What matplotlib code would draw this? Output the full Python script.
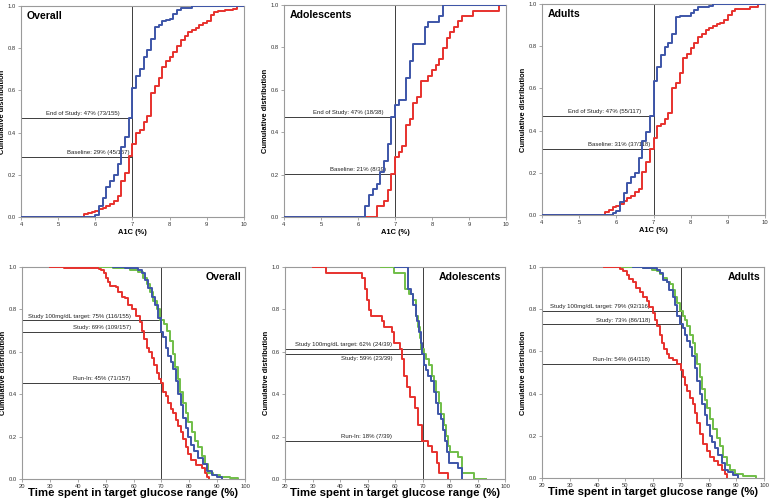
import matplotlib.pyplot as plt

plt.rcParams['font.family'] = ['Liberation Sans', 'DejaVu Sans']

RED = '#e7312d'
BLUE = '#3d55a8'
GREEN = '#70be47'
REF = '#3c3c3c'
FRAME = '#9a9a9a'

# ---- A1C (%): step positions and cumulative fraction reached there ----
a1c_overall_base_x = [5.7, 5.8, 5.9, 6.0, 6.1, 6.2, 6.3, 6.4, 6.5, 6.6, 6.7, 6.8, 6.9,
                      7.0, 7.1, 7.2, 7.3, 7.4, 7.5, 7.6, 7.7, 7.8, 7.9,
                      8.0, 8.1, 8.2, 8.3, 8.4, 8.5, 8.6, 8.7, 8.8, 8.9,
                      9.0, 9.1, 9.2, 9.3, 9.5, 9.7, 9.8]
a1c_overall_base_y = [0.013, 0.02, 0.025, 0.03, 0.04, 0.045, 0.05, 0.06, 0.075, 0.10, 0.17, 0.21, 0.287,
                      0.345, 0.40, 0.41, 0.45, 0.48, 0.59, 0.62, 0.66, 0.71, 0.74,
                      0.76, 0.78, 0.81, 0.84, 0.86, 0.875, 0.885, 0.895, 0.91, 0.92,
                      0.93, 0.955, 0.97, 0.975, 0.98, 0.985, 1.0]
a1c_overall_end_x = [6.0, 6.1, 6.2, 6.3, 6.4, 6.5, 6.6, 6.7, 6.8, 6.9,
                     7.0, 7.1, 7.2, 7.3, 7.4, 7.5, 7.6, 7.7, 7.8, 7.9,
                     8.0, 8.1, 8.2, 8.3, 8.6]
a1c_overall_end_y = [0.01, 0.05, 0.09, 0.14, 0.17, 0.20, 0.25, 0.33, 0.38, 0.471,
                     0.61, 0.67, 0.70, 0.76, 0.79, 0.845, 0.90, 0.91, 0.93, 0.935,
                     0.94, 0.96, 0.98, 0.99, 1.0]

a1c_adol_base_x = [6.5, 6.7, 6.8, 6.9, 7.0, 7.1, 7.2, 7.3, 7.4, 7.5, 7.6, 7.7,
                   7.9, 8.0, 8.1, 8.2, 8.3, 8.4, 8.5, 8.6, 8.7, 8.8, 9.1, 9.8]
a1c_adol_base_y = [0.051, 0.077, 0.128, 0.205, 0.282, 0.308, 0.333, 0.436, 0.462, 0.538, 0.564, 0.641,
                   0.667, 0.692, 0.718, 0.744, 0.795, 0.846, 0.872, 0.897, 0.923, 0.949, 0.974, 1.0]
a1c_adol_end_x = [6.2, 6.3, 6.4, 6.5, 6.6, 6.7, 6.8, 6.9, 7.0, 7.1, 7.3, 7.4, 7.5, 7.8, 7.9, 8.2, 8.3]
a1c_adol_end_y = [0.053, 0.105, 0.132, 0.158, 0.211, 0.263, 0.342, 0.474, 0.526, 0.553,
                  0.658, 0.737, 0.816, 0.895, 0.921, 0.947, 1.0]

a1c_adult_base_x = [5.7, 5.8, 5.9, 6.0, 6.1, 6.2, 6.3, 6.4, 6.5, 6.6, 6.7, 6.8, 6.9,
                    7.0, 7.1, 7.2, 7.3, 7.4, 7.5, 7.6, 7.7, 7.8, 7.9,
                    8.0, 8.1, 8.2, 8.3, 8.4, 8.5, 8.6, 8.7, 8.8, 8.9,
                    9.0, 9.1, 9.2, 9.6, 9.8]
a1c_adult_base_y = [0.013, 0.025, 0.036, 0.044, 0.054, 0.065, 0.08, 0.09, 0.107, 0.125, 0.206, 0.25, 0.314,
                    0.367, 0.42, 0.43, 0.454, 0.485, 0.603, 0.624, 0.674, 0.742, 0.765,
                    0.79, 0.813, 0.844, 0.86, 0.876, 0.887, 0.895, 0.904, 0.912, 0.923,
                    0.95, 0.967, 0.978, 0.986, 1.0]
a1c_adult_end_x = [5.9, 6.0, 6.1, 6.2, 6.3, 6.4, 6.5, 6.6, 6.7, 6.8, 6.9,
                   7.0, 7.1, 7.2, 7.3, 7.4, 7.5, 7.6, 7.7, 8.0, 8.1, 8.2, 8.5, 8.6]
a1c_adult_end_y = [0.009, 0.02, 0.063, 0.106, 0.153, 0.18, 0.2, 0.27, 0.352, 0.395, 0.47,
                   0.636, 0.703, 0.758, 0.798, 0.817, 0.86, 0.937, 0.944, 0.955, 0.97, 0.988, 0.99, 1.0]

# ---- time in range (%): step positions and fraction still at or above ----
tir_overall_run_x = [30, 35, 47.7, 48.5, 49.3, 50, 51, 51.7, 53.7, 54.5,
                     55.7, 56.9, 58, 59.3, 61, 62.3, 63, 63.8, 64.7, 65.5,
                     66.5, 67.3, 68.3, 69.1, 69.8, 70.7, 71.5, 72.5, 73.3, 74.2,
                     75.1, 76, 76.9, 77.8, 78.7, 79.6, 80.8, 82.6, 84.4, 85.6, 86.5, 87.2]
tir_overall_run_y = [1.0, 0.994, 0.99, 0.985, 0.97, 0.95, 0.93, 0.91, 0.905, 0.88,
                     0.86, 0.855, 0.82, 0.80, 0.77, 0.74, 0.70, 0.66, 0.62, 0.60,
                     0.57, 0.54, 0.50, 0.47, 0.452, 0.41, 0.39, 0.36, 0.33, 0.31,
                     0.28, 0.25, 0.22, 0.19, 0.15, 0.12, 0.09, 0.065, 0.05, 0.03, 0.01, 0.0]
tir_overall_study_x = [52.8, 57, 61.7, 62.9, 64.1, 65.3, 66.5, 67.7, 68.9, 69.7,
                       70.7, 71.6, 72.5, 73.3, 74.3, 75.2, 76.1, 76.9, 77.9, 78.8,
                       79.7, 80.5, 81.7, 83.3, 85, 86.2, 88, 89.8, 91.6]
tir_overall_study_y = [1.0, 0.994, 0.985, 0.97, 0.94, 0.90, 0.86, 0.82, 0.76, 0.694,
                       0.67, 0.62, 0.58, 0.55, 0.52, 0.46, 0.40, 0.35, 0.29, 0.24,
                       0.20, 0.16, 0.13, 0.10, 0.07, 0.04, 0.02, 0.01, 0.0]
tir_overall_target_x = [48, 52.8, 58.7, 61.7, 63.5, 64.7, 65.9, 67.1, 68.3, 69.5,
                        70.8, 72.1, 73.1, 74, 74.9, 75.8, 76.7, 77.9, 78.8, 79.7,
                        80.9, 82.1, 83.3, 84.5, 85.6, 86.8, 88.6, 91, 94.6, 97.6]
tir_overall_target_y = [1.0, 0.994, 0.985, 0.975, 0.95, 0.92, 0.88, 0.84, 0.80, 0.748,
                        0.73, 0.70, 0.65, 0.59, 0.53, 0.47, 0.41, 0.36, 0.31, 0.27,
                        0.22, 0.18, 0.15, 0.11, 0.07, 0.03, 0.02, 0.01, 0.005, 0.0]

tir_adol_run_x = [30, 34.9, 47.9, 49.1, 49.7, 50.7, 51.3, 55.1, 56, 58.8,
                  59.6, 61.8, 62.4, 63.4, 64.2, 65.5, 67.3, 68.5, 69.7, 72.1,
                  73.3, 75.1, 76.1, 79.4]
tir_adol_run_y = [1.0, 0.974, 0.949, 0.897, 0.846, 0.795, 0.769, 0.744, 0.718, 0.692,
                  0.641, 0.615, 0.564, 0.487, 0.436, 0.385, 0.333, 0.256, 0.179, 0.154,
                  0.128, 0.077, 0.026, 0.0]
tir_adol_study_x = [60, 64.8, 65.8, 66.7, 67.6, 68.1, 68.8, 69.4, 69.9, 70.7,
                    71.3, 72.1, 73, 74, 74.9, 75.8, 76.6, 77.3, 78.2, 78.8,
                    79.8, 83, 84.4]
tir_adol_study_y = [1.0, 0.897, 0.872, 0.821, 0.769, 0.744, 0.692, 0.641, 0.590, 0.538,
                    0.513, 0.487, 0.462, 0.410, 0.359, 0.308, 0.282, 0.231, 0.179, 0.128,
                    0.077, 0.051, 0.0]
tir_adol_target_x = [55, 59.5, 63.6, 65.2, 66.5, 67.5, 68.3, 69, 69.6, 70.5,
                     71.2, 72.3, 73.3, 74.2, 75, 76, 76.8, 77.8, 78.6, 79.3,
                     80, 82.8, 84.3, 88.8, 93]
tir_adol_target_y = [1.0, 0.974, 0.897, 0.872, 0.846, 0.769, 0.718, 0.667, 0.615, 0.590,
                     0.564, 0.538, 0.487, 0.462, 0.410, 0.359, 0.308, 0.256, 0.205, 0.154,
                     0.128, 0.103, 0.026, 0.0, 0.0]

tir_adult_run_x = [42.5, 48.1, 49.3, 50.5, 51.5, 52.7, 53.9, 55.3, 56.5, 57.7,
                   58.7, 59.9, 60.7, 61.6, 62.5, 63.4, 64.1, 64.9, 65.9, 67.1,
                   68.7, 70.2, 70.7, 71.5, 72.3, 73.3, 74.3, 75.1, 75.9, 76.9,
                   78.1, 79.3, 80.5, 81.9, 83.5, 84.9, 85.9, 86.7]
tir_adult_run_y = [1.0, 0.99, 0.98, 0.96, 0.945, 0.93, 0.90, 0.88, 0.86, 0.84,
                   0.81, 0.78, 0.75, 0.72, 0.68, 0.64, 0.61, 0.59, 0.57, 0.56,
                   0.542, 0.51, 0.48, 0.44, 0.41, 0.38, 0.35, 0.31, 0.26, 0.21,
                   0.16, 0.13, 0.10, 0.08, 0.06, 0.04, 0.02, 0.0]
tir_adult_study_x = [52.9, 56.5, 61.3, 62.5, 63.7, 64.9, 65.9, 67.1, 67.9, 68.7,
                     69.7, 70.7, 71.5, 72.3, 73.3, 74.1, 75.1, 75.9, 76.9, 77.8,
                     78.7, 79.5, 80.5, 81.3, 82.3, 83.5, 84.7, 85.9, 87.1, 88.9, 90.7]
tir_adult_study_y = [1.0, 0.995, 0.985, 0.97, 0.94, 0.93, 0.89, 0.86, 0.82, 0.77,
                     0.729, 0.71, 0.68, 0.65, 0.62, 0.58, 0.52, 0.46, 0.40, 0.35,
                     0.30, 0.25, 0.20, 0.17, 0.14, 0.11, 0.07, 0.04, 0.03, 0.015, 0.0]
tir_adult_target_x = [48.7, 56.5, 59.5, 61.3, 62.5, 63.7, 64.9, 66.1, 67.1, 67.9,
                      68.7, 69.7, 70.7, 71.5, 72.4, 73.3, 74.3, 75.1, 75.9, 76.9,
                      77.8, 78.7, 79.5, 80.5, 81.7, 82.9, 84.1, 85.3, 86.5, 87.7,
                      89.5, 92.5, 97.2]
tir_adult_target_y = [1.0, 0.995, 0.985, 0.98, 0.965, 0.95, 0.93, 0.92, 0.89, 0.86,
                      0.83, 0.793, 0.77, 0.75, 0.72, 0.68, 0.64, 0.59, 0.54, 0.48,
                      0.42, 0.37, 0.33, 0.28, 0.23, 0.19, 0.15, 0.10, 0.06, 0.04,
                      0.02, 0.01, 0.0]

titles = ['Overall', 'Adolescents', 'Adults']

# reference-line labels (text, level)
a1c_labels = [
    [('End of Study: 47% (73/155)', 73 / 155), ('Baseline: 29% (45/157)', 45 / 157)],
    [('End of Study: 47% (18/38)', 18 / 38), ('Baseline: 21% (8/39)', 8 / 39)],
    [('End of Study: 47% (55/117)', 55 / 117), ('Baseline: 31% (37/118)', 37 / 118)],
]
tir_labels = [
    [('Study 100mg/dL target: 75% (116/155)', 116 / 155), ('Study: 69% (109/157)', 109 / 157),
     ('Run-In: 45% (71/157)', 71 / 157)],
    [('Study 100mg/dL target: 62% (24/39)', 24 / 39), ('Study: 59% (23/39)', 23 / 39),
     ('Run-In: 18% (7/39)', 7 / 39)],
    [('Study 100mg/dL target: 79% (92/116)', 92 / 116), ('Study: 73% (86/118)', 86 / 118),
     ('Run-In: 54% (64/118)', 64 / 118)],
]

W, H = 769, 499
top_boxes = [(21, 6, 244, 217), (284, 5, 506, 217), (542, 4, 765, 215)]
bot_boxes = [(22, 267, 245, 479), (285, 267, 505, 479), (542, 267, 764, 478)]
top_label_right = [(6.66, 6.92), (6.68, 6.76), (6.66, 6.91)]


def px_rect(box):
    l, t, r, b = box
    return [l / W, 1 - b / H, (r - l) / W, (b - t) / H]


def style_axes(ax):
    for s in ax.spines.values():
        s.set_color(FRAME)
        s.set_linewidth(0.8)
    ax.tick_params(labelsize=4.2, length=2, width=0.6, color=FRAME, pad=1.5,
                   labelcolor='#333333')
    ax.set_ylim(0, 1)
    ax.set_yticks([0, 0.2, 0.4, 0.6, 0.8, 1.0])
    ax.set_yticklabels(['0.0', '0.2', '0.4', '0.6', '0.8', '1.0'])
    ax.set_ylabel('Cumulative distribution', fontsize=5.4, fontweight='bold')
    ax.yaxis.set_label_coords(-0.068, 0.5)


fig = plt.figure(figsize=(W / 100, H / 100), dpi=100)

top_series = [
    ((a1c_overall_base_x, a1c_overall_base_y), (a1c_overall_end_x, a1c_overall_end_y)),
    ((a1c_adol_base_x, a1c_adol_base_y), (a1c_adol_end_x, a1c_adol_end_y)),
    ((a1c_adult_base_x, a1c_adult_base_y), (a1c_adult_end_x, a1c_adult_end_y)),
]
for i in range(3):
    ax = fig.add_axes(px_rect(top_boxes[i]))
    style_axes(ax)
    ax.set_xlim(4, 10)
    ax.set_xticks(range(4, 11))
    ax.set_xlabel('A1C (%)', fontsize=5.4, fontweight='bold')
    ax.xaxis.set_label_coords(0.5, -0.055)

    ax.axvline(7, color=REF, lw=0.7, zorder=1)
    for (text, level), xr in zip(a1c_labels[i], top_label_right[i]):
        ax.plot([4, 7], [level, level], color=REF, lw=0.7, zorder=1)
        ax.annotate(text, (xr, level), xytext=(0, 1.2), textcoords='offset points',
                    ha='right', va='bottom', fontsize=4.3, color='#222222')

    for (x, y), color in zip(top_series[i], [RED, BLUE]):
        ax.step([4] + x + [10], [0] + y + [y[-1]], where='post', color=color, lw=1.4, zorder=3)

    ax.text(0.025, 0.975, titles[i], transform=ax.transAxes, ha='left', va='top',
            fontsize=7.6, fontweight='bold')

bot_series = [
    ((tir_overall_run_x, tir_overall_run_y), (tir_overall_target_x, tir_overall_target_y),
     (tir_overall_study_x, tir_overall_study_y)),
    ((tir_adol_run_x, tir_adol_run_y), (tir_adol_target_x, tir_adol_target_y),
     (tir_adol_study_x, tir_adol_study_y)),
    ((tir_adult_run_x, tir_adult_run_y), (tir_adult_target_x, tir_adult_target_y),
     (tir_adult_study_x, tir_adult_study_y)),
]
for i in range(3):
    ax = fig.add_axes(px_rect(bot_boxes[i]))
    style_axes(ax)
    ax.set_xlim(20, 100)
    ax.set_xticks(range(20, 101, 10))
    ax.set_xlabel('Time spent in target glucose range (%)', fontsize=8.2, fontweight='bold')
    ax.xaxis.set_label_coords(0.5, -0.042)

    ax.axvline(70, color=REF, lw=0.7, zorder=1)
    for j, (text, level) in enumerate(tir_labels[i]):
        ax.plot([20, 70], [level, level], color=REF, lw=0.7, zorder=1)
        below = (i == 1 and j == 1)
        ax.annotate(text, (59, level), xytext=(0, -1.2 if below else 1.2),
                    textcoords='offset points', ha='right',
                    va='top' if below else 'bottom', fontsize=4.3, color='#222222')

    for (x, y), color in zip(bot_series[i], [RED, GREEN, BLUE]):
        ax.step(x, y, where='post', color=color, lw=1.4, zorder=3)

    ax.text(0.982, 0.978, titles[i], transform=ax.transAxes, ha='right', va='top',
            fontsize=7.6, fontweight='bold')

fig.savefig('out.png', dpi=100)
